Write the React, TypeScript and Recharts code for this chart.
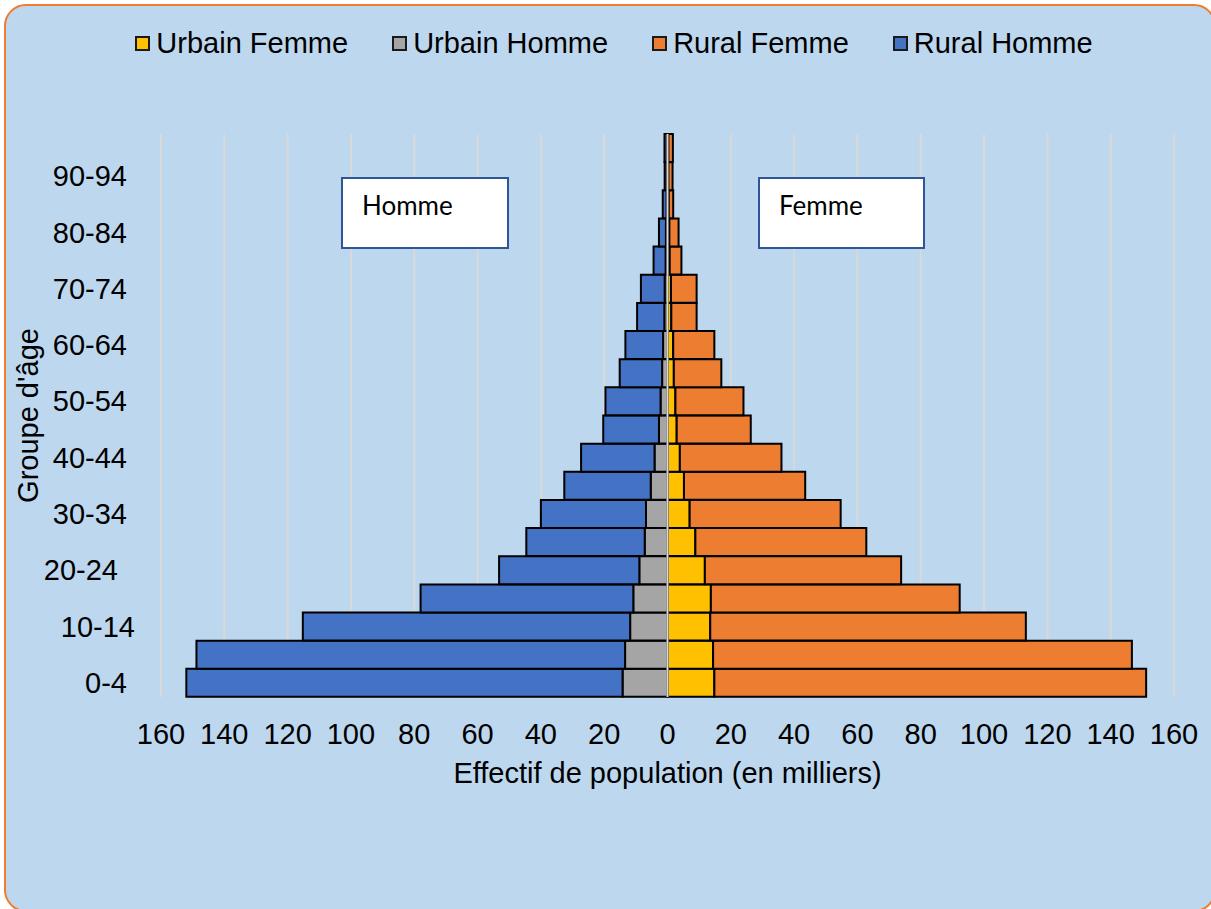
import React from 'react';
import { BarChart, Bar, XAxis, YAxis, CartesianGrid, ReferenceLine, Label } from 'recharts';

const AGE_GROUPS = [
  '0-4', '5-9', '10-14', '15-19', '20-24', '25-29', '30-34', '35-39', '40-44', '45-49',
  '50-54', '55-59', '60-64', '65-69', '70-74', '75-79', '80-84', '85-89', '90-94', '95-99',
];

// effectifs en milliers
const URBAIN_FEMME = [14.8, 14.4, 13.5, 13.7, 11.8, 8.8, 7.0, 5.2, 3.9, 2.9, 2.5, 2.0, 1.8, 1.2, 1.1, 0.7, 0.6, 0.4, 0.3, 0.3];
const URBAIN_HOMME = [14.2, 13.4, 11.8, 10.8, 8.9, 7.2, 6.8, 5.3, 4.1, 2.7, 2.2, 1.7, 1.4, 1.0, 0.9, 0.6, 0.5, 0.3, 0.2, 0.2];
const RURAL_FEMME = [136.4, 132.3, 99.7, 78.6, 62.0, 54.0, 47.7, 38.3, 32.1, 23.4, 21.5, 15.0, 13.0, 8.0, 8.1, 3.7, 2.9, 1.4, 1.3, 1.4];
const RURAL_HOMME = [137.8, 135.4, 103.4, 67.2, 44.3, 37.4, 33.2, 27.3, 23.2, 17.6, 17.4, 13.4, 11.9, 8.6, 7.5, 3.8, 2.2, 1.2, 0.7, 0.75];

const X_TICKS = [-160, -140, -120, -100, -80, -60, -40, -20, 0, 20, 40, 60, 80, 100, 120, 140, 160];

const SERIES = [
  { key: 'urbainFemme', name: 'Urbain Femme', color: '#FFC000' },
  { key: 'urbainHomme', name: 'Urbain Homme', color: '#A5A5A5' },
  { key: 'ruralFemme', name: 'Rural Femme', color: '#ED7D31' },
  { key: 'ruralHomme', name: 'Rural Homme', color: '#4472C4' },
];

// hommes à gauche (valeurs négatives)
const data = AGE_GROUPS.map((age, i) => ({
  age,
  urbainFemme: URBAIN_FEMME[i],
  urbainHomme: -URBAIN_HOMME[i],
  ruralFemme: RURAL_FEMME[i],
  ruralHomme: -RURAL_HOMME[i],
}));

const FONT = "'Liberation Sans', Arial, sans-serif";
const TICK_SHIFT: Record<string, number> = { '20-24': -9, '10-14': 8 };

const AgeTick = (props: any) => {
  const { x, y, payload } = props;
  return (
    <text
      x={x + (TICK_SHIFT[payload.value] ?? 0)}
      y={y}
      textAnchor="end"
      dominantBaseline="central"
      fontSize={29}
      fontFamily={FONT}
      fill="#000"
    >
      {payload.value}
    </text>
  );
};

const boxStyle: React.CSSProperties = {
  position: 'absolute',
  top: 177,
  height: 68,
  background: '#fff',
  border: '2px solid #2F5597',
};

const boxText: React.CSSProperties = {
  position: 'absolute',
  top: 13,
  left: 19,
  fontFamily: 'Lato, sans-serif',
  fontSize: 26,
  lineHeight: 1,
  color: '#000',
};

const App: React.FC = () => {
  return (
    <div style={{ position: 'fixed', left: 0, top: 0, width: 1211, height: 909, overflow: 'hidden', background: '#fff' }}>
      <div
        style={{
          position: 'absolute',
          left: 4,
          top: 4,
          width: 1212,
          height: 908,
          boxSizing: 'border-box',
          border: '2px solid #ED7D31',
          borderRadius: 22,
          background: '#BDD7EE',
        }}
      />

      {/* Légende */}
      <div
        style={{
          position: 'absolute',
          left: 0,
          width: 1228,
          top: 25,
          height: 36,
          display: 'flex',
          justifyContent: 'center',
          alignItems: 'center',
          gap: 44,
          fontFamily: FONT,
          fontSize: 29,
          color: '#000',
        }}
      >
        {SERIES.map((s) => (
          <div key={s.key} style={{ display: 'flex', alignItems: 'center' }}>
            <span
              style={{
                width: 15,
                height: 15,
                boxSizing: 'border-box',
                background: s.color,
                border: '2px solid #1a1a1a',
                marginRight: 6,
              }}
            />
            <span>{s.name}</span>
          </div>
        ))}
      </div>

      <div style={{ position: 'absolute', left: 0, top: 0 }}>
        <BarChart
          width={1211}
          height={909}
          data={data}
          layout="vertical"
          stackOffset="sign"
          barCategoryGap={0}
          margin={{ top: 134, right: 37, bottom: 0, left: 0 }}
        >
          <CartesianGrid horizontal={false} stroke="#D9D9D9" strokeWidth={2} />
          <XAxis
            type="number"
            domain={[-160, 160]}
            ticks={X_TICKS}
            interval={0}
            height={212}
            axisLine={false}
            tickLine={false}
            tickSize={0}
            tickMargin={26}
            tickFormatter={(v: number) => String(Math.abs(v))}
            tick={{ fontSize: 29, fontFamily: FONT, fill: '#000' }}
          >
            <Label
              content={(p: any) => {
                const vb = p.viewBox || {};
                return (
                  <text
                    x={vb.x + vb.width / 2}
                    y={vb.y + 86}
                    textAnchor="middle"
                    fontSize={29}
                    fontFamily={FONT}
                    fill="#000"
                  >
                    Effectif de population (en milliers)
                  </text>
                );
              }}
            />
          </XAxis>
          <YAxis
            type="category"
            dataKey="age"
            reversed
            width={161}
            interval={1}
            axisLine={false}
            tickLine={false}
            tickSize={0}
            tickMargin={34}
            tick={<AgeTick />}
          >
            <Label
              content={(p: any) => {
                const vb = p.viewBox || {};
                const cy = vb.y + vb.height / 2;
                return (
                  <text
                    x={38}
                    y={cy}
                    transform={`rotate(-90 38 ${cy})`}
                    textAnchor="middle"
                    fontSize={29}
                    fontFamily={FONT}
                    fill="#000"
                  >
                    Groupe d'âge
                  </text>
                );
              }}
            />
          </YAxis>
          {SERIES.map((s) => (
            <Bar
              key={s.key}
              dataKey={s.key}
              name={s.name}
              stackId="pop"
              fill={s.color}
              stroke="#000"
              strokeWidth={2}
              isAnimationActive={false}
            />
          ))}
          <ReferenceLine x={0} stroke="#D9D9D9" strokeWidth={2} />
        </BarChart>
      </div>

      <div style={{ ...boxStyle, left: 341, width: 164 }}>
        <span style={boxText}>Homme</span>
      </div>
      <div style={{ ...boxStyle, left: 758, width: 163 }}>
        <span style={boxText}>Femme</span>
      </div>
    </div>
  );
};

export default App;
